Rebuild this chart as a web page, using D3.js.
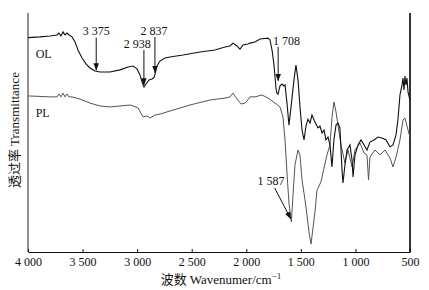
<!DOCTYPE html>
<html>
<head>
<meta charset="utf-8">
<script src="https://cdn.jsdelivr.net/npm/d3@7"></script>
<style>
  body { margin: 0; background: #fff; }
  svg { display: block; }
  text { font-family: "Liberation Serif", "DejaVu Serif", serif; fill: #111; }
  .cjk { font-family: "Noto Sans CJK SC", sans-serif; }
</style>
</head>
<body>
<svg id="chart" width="429" height="290"></svg>
<script>
// wavenumber (cm-1) and transmittance (a.u.)
let tickValues = [4000, 3500, 3000, 2500, 2000, 1500, 1000, 500];
let tickLabels = ["4 000", "3 500", "3 000", "2 500", "2 000", "1 500", "1 000", "500"];

let olWave = [4000, 3890, 3798, 3734, 3716, 3698, 3679, 3661, 3643, 3624, 3597, 3569, 3542, 3505, 3469, 3432, 3386, 3340, 3249, 3157, 3084, 3038, 3001, 2974, 2955, 2937, 2919, 2891, 2864, 2845, 2836, 2818, 2791, 2745, 2699, 2580, 2424, 2287, 2195, 2149, 2122, 2085, 2058, 2030, 1984, 1966, 1920, 1874, 1801, 1783, 1764, 1746, 1728, 1720, 1709, 1691, 1673, 1655, 1645, 1627, 1609, 1590, 1563, 1545, 1526, 1508, 1489, 1471, 1453, 1435, 1416, 1398, 1371, 1343, 1325, 1306, 1288, 1270, 1251, 1233, 1215, 1197, 1178, 1160, 1142, 1123, 1114, 1096, 1077, 1050, 1031, 1022, 1004, 976, 949, 921, 894, 867, 830, 793, 757, 720, 683, 656, 628, 610, 592, 573, 564, 555, 546, 537, 528, 518, 500];
let olTrans = [89.7, 90.0, 90.4, 90.8, 91.6, 90.4, 92.1, 90.8, 91.6, 90.8, 90.0, 87.9, 84.5, 81.2, 78.7, 77.0, 75.7, 75.3, 75.3, 76.2, 77.4, 77.8, 76.6, 74.1, 71.1, 69.0, 70.3, 72.0, 72.4, 73.0, 74.5, 77.8, 79.9, 81.2, 81.6, 82.4, 83.7, 84.5, 85.8, 86.2, 87.4, 86.2, 84.9, 86.6, 87.0, 87.4, 87.9, 89.1, 89.5, 88.7, 84.5, 78.2, 68.6, 66.5, 66.0, 69.5, 70.3, 69.5, 69.9, 62.3, 53.1, 60.7, 72.0, 78.2, 72.0, 60.7, 51.0, 46.9, 52.7, 55.6, 54.0, 57.3, 54.4, 51.9, 52.7, 49.8, 51.0, 46.9, 48.1, 44.8, 35.6, 46.9, 53.1, 54.0, 51.9, 34.3, 28.9, 36.4, 42.7, 44.8, 38.5, 31.4, 40.6, 44.8, 46.9, 44.8, 42.7, 46.0, 46.9, 48.1, 47.7, 46.9, 44.0, 44.8, 49.0, 55.6, 65.7, 69.9, 72.8, 67.8, 73.6, 69.9, 72.8, 66.9, 63.6];

let plWave = [4000, 3890, 3798, 3734, 3716, 3698, 3679, 3661, 3643, 3624, 3597, 3524, 3432, 3340, 3249, 3157, 3065, 2992, 2946, 2910, 2882, 2836, 2791, 2699, 2516, 2332, 2195, 2149, 2122, 2085, 2048, 2012, 1993, 1966, 1920, 1856, 1801, 1737, 1691, 1664, 1645, 1627, 1609, 1587, 1572, 1554, 1526, 1508, 1489, 1462, 1444, 1426, 1407, 1389, 1371, 1352, 1316, 1288, 1261, 1233, 1215, 1197, 1178, 1160, 1132, 1096, 1068, 1031, 1004, 958, 921, 894, 880, 867, 821, 775, 729, 683, 656, 628, 592, 564, 546, 518, 500];
let plTrans = [65.3, 65.1, 64.9, 64.9, 66.1, 64.9, 66.5, 64.9, 66.1, 64.9, 64.9, 64.0, 62.3, 61.1, 60.7, 61.1, 61.5, 60.3, 56.5, 56.9, 56.1, 57.3, 57.7, 59.0, 61.5, 63.6, 64.4, 64.9, 66.5, 64.0, 61.9, 62.3, 63.2, 64.9, 64.9, 65.7, 64.4, 62.3, 60.7, 56.5, 46.9, 33.1, 20.5, 12.6, 23.8, 36.4, 42.7, 40.6, 30.1, 21.8, 15.5, 8.4, 3.3, 10.0, 16.7, 25.9, 29.3, 35.1, 40.6, 44.8, 56.1, 62.8, 58.6, 53.1, 44.8, 37.2, 42.7, 35.6, 42.7, 45.6, 41.4, 40.6, 30.1, 39.7, 42.7, 40.6, 42.7, 39.3, 35.6, 39.7, 46.9, 55.2, 56.1, 51.0, 48.1];

// peak labels: text position, arrow start and arrow tip, all in data units
let peaks = [
    { label: "3 375", tw: 3375, tt: 91.0, w1: 3375, t1: 89.7, w2: 3375, t2: 76.0 },
    { label: "2 938", tw: 3000, tt: 85.4, w1: 2938, t1: 84.5, w2: 2938, t2: 69.8 },
    { label: "2 837", tw: 2846, tt: 90.8, w1: 2837, t1: 90.0, w2: 2837, t2: 75.0 },
    { label: "1 708", tw: 1632, tt: 86.6, w1: 1708, t1: 85.8, w2: 1708, t2: 71.5 },
    { label: "1 587", tw: 1774, tt: 28.0, w1: 1740, t1: 26.8, w2: 1592, t2: 13.8 }
];

let svg = d3.select("#chart");
let padLeft = 28, padRight = 410, padTop = 13, padBottom = 252;

let x = d3.scaleLinear().domain([4000, 500]).range([padLeft, padRight]);
let y = d3.scaleLinear().domain([0, 100]).range([padBottom, padTop]);

svg.append("defs")
    .append("marker")
    .attr("id", "arrow")
    .attr("viewBox", "0 0 10 10")
    .attr("refX", 10)
    .attr("refY", 5)
    .attr("markerWidth", 7)
    .attr("markerHeight", 7)
    .attr("markerUnits", "userSpaceOnUse")
    .attr("orient", "auto")
    .append("path")
    .attr("d", "M0,1 L10,5 L0,9 Z")
    .attr("fill", "#111");

// bottom axis with inward ticks
let xAxis = d3.axisBottom(x)
    .tickValues(tickValues)
    .tickSizeInner(-3)
    .tickSizeOuter(0)
    .tickFormat((d, i) => tickLabels[i]);

let gx = svg.append("g")
    .attr("transform", `translate(0,${padBottom})`)
    .call(xAxis);
gx.select(".domain").attr("stroke", "#111");
gx.selectAll(".tick line").attr("stroke", "#111");
gx.selectAll(".tick text")
    .attr("y", 14)
    .attr("dy", 0)
    .style("font-size", "12px")
    .style("font-family", "'Liberation Serif', serif");

svg.append("line")
    .attr("x1", padLeft).attr("x2", padLeft)
    .attr("y1", padTop).attr("y2", padBottom)
    .attr("stroke", "#222").attr("stroke-width", 1);

svg.append("line")
    .attr("x1", padRight).attr("x2", padRight)
    .attr("y1", padTop).attr("y2", padBottom)
    .attr("stroke", "#000").attr("stroke-width", 1.6);

let line = d3.line()
    .x(d => x(d[0]))
    .y(d => y(d[1]));

svg.append("path")
    .datum(d3.zip(plWave, plTrans))
    .attr("d", line)
    .attr("fill", "none")
    .attr("stroke", "#555")
    .attr("stroke-width", 1);

svg.append("path")
    .datum(d3.zip(olWave, olTrans))
    .attr("d", line)
    .attr("fill", "none")
    .attr("stroke", "#111")
    .attr("stroke-width", 1.1);

// series names
svg.append("text").attr("x", x(3930)).attr("y", y(81.2)).style("font-size", "12px").text("OL");
svg.append("text").attr("x", x(3930)).attr("y", y(56.5)).style("font-size", "12px").text("PL");

// peak labels and arrows
svg.selectAll(".peak-line")
    .data(peaks)
    .enter()
    .append("line")
    .attr("class", "peak-line")
    .attr("x1", d => x(d.w1)).attr("y1", d => y(d.t1))
    .attr("x2", d => x(d.w2)).attr("y2", d => y(d.t2))
    .attr("stroke", "#111")
    .attr("stroke-width", 1)
    .attr("marker-end", "url(#arrow)");

svg.selectAll(".peak-text")
    .data(peaks)
    .enter()
    .append("text")
    .attr("class", "peak-text")
    .attr("x", d => x(d.tw))
    .attr("y", d => y(d.tt))
    .attr("text-anchor", "middle")
    .style("font-size", "12px")
    .text(d => d.label);

// axis titles
let xt = svg.append("text")
    .attr("x", 221)
    .attr("y", 284)
    .attr("text-anchor", "middle")
    .style("font-size", "13px");
xt.append("tspan").attr("class", "cjk").text("波数 ");
xt.append("tspan").text("Wavenumer/cm");
xt.append("tspan").attr("dy", -5).style("font-size", "9px").text("−1");

let yt = svg.append("text")
    .attr("transform", "translate(19,130) rotate(-90)")
    .attr("text-anchor", "middle")
    .style("font-size", "13px");
yt.append("tspan").attr("class", "cjk").text("透过率 ");
yt.append("tspan").text("Transmittance");
</script>
</body>
</html>
